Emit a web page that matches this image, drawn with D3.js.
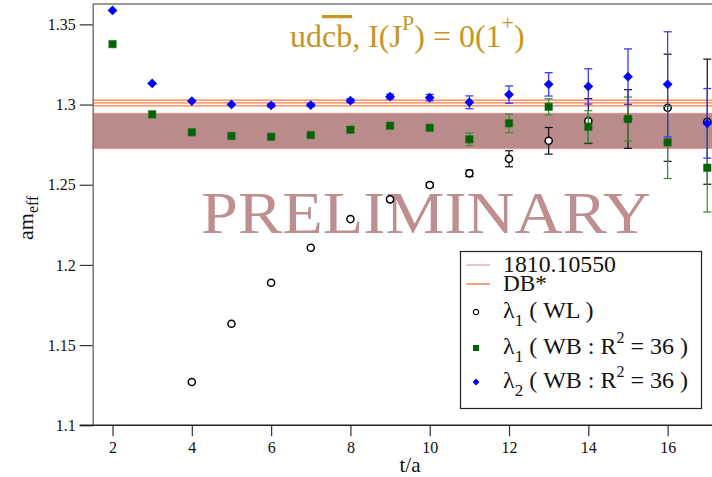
<!DOCTYPE html>
<html>
<head>
<meta charset="utf-8">
<script src="https://cdn.jsdelivr.net/npm/d3@7"></script>
<style>
  html, body { margin: 0; padding: 0; background: #fff; }
  svg { display: block; }
  text { font-family: "Liberation Serif", "Times New Roman", serif; }
</style>
</head>
<body>
<svg id="chart" width="712" height="477"></svg>
<script>
// Effective mass plateaus, udc̄b̄ channel, I(J^P) = 0(1^+)

// λ1 from wall-local correlators
const tWL   = [4, 5, 6, 7, 8, 9, 10, 11, 12, 13, 14, 15, 16, 17];
const mWL   = [1.1270, 1.1633, 1.1889, 1.2107, 1.2286, 1.2409, 1.2498, 1.2571, 1.2662, 1.2774, 1.2897, 1.2910, 1.2980, 1.2893];
const eWL   = [0.0004, 0.0005, 0.0006, 0.0008, 0.0008, 0.0010, 0.0015, 0.0020, 0.0050, 0.0083, 0.0140, 0.0183, 0.0334, 0.0390];

// λ1 from wall-box correlators, R^2 = 36
const tWB1  = [2, 3, 4, 5, 6, 7, 8, 9, 10, 11, 12, 13, 14, 15, 16, 17];
const mWB1  = [1.3377, 1.2939, 1.2827, 1.2804, 1.2799, 1.2810, 1.2843, 1.2868, 1.2855, 1.2783, 1.2883, 1.2986, 1.2862, 1.2910, 1.2764, 1.2606];
const eWB1  = [0.0005, 0.0006, 0.0007, 0.0008, 0.0009, 0.0010, 0.0012, 0.0015, 0.0015, 0.0040, 0.0058, 0.0050, 0.0100, 0.0137, 0.0225, 0.0276];

// λ2 from wall-box correlators, R^2 = 36
const tWB2  = [2, 3, 4, 5, 6, 7, 8, 9, 10, 11, 12, 13, 14, 15, 16, 17];
const mWB2  = [1.3587, 1.3132, 1.3022, 1.3001, 1.2995, 1.2997, 1.3024, 1.3049, 1.3043, 1.3014, 1.3062, 1.3126, 1.3113, 1.3174, 1.3126, 1.2883];
const eWB2  = [0.0005, 0.0007, 0.0008, 0.0008, 0.0010, 0.0010, 0.0012, 0.0015, 0.0020, 0.0040, 0.0054, 0.0073, 0.0110, 0.0173, 0.0328, 0.0217];

// Reference determinations (central value, error)
const refLabels  = ["1810.10550", "DB*"];
const refCenters = [1.2836, 1.3010];
const refErrors  = [0.0109, 0.0018];

const xTicks = [2, 4, 6, 8, 10, 12, 14, 16];
const yTicks = [1.1, 1.15, 1.2, 1.25, 1.3, 1.35];

const svg = d3.select("#chart");
const SERIF = "Liberation Serif, Times New Roman, serif";

const x = d3.scaleLinear().domain([1.5, 17.5]).range([92.7, 727.1]);
const y = d3.scaleLinear().domain([1.1, 1.3627]).range([425.3, 4]);

const COL_BLUE = "#0000ff", COL_GREEN = "#006400";
const GOLD = "#c8951f";

// frame top line
svg.append("line").attr("x1", x(1.5)).attr("x2", 712).attr("y1", y(1.3627)).attr("y2", y(1.3627))
  .attr("stroke", "#777").attr("stroke-width", 1.5);

// reference band 1810.10550
svg.append("rect")
  .attr("x", x(1.5)).attr("width", 712 - x(1.5))
  .attr("y", y(refCenters[0] + refErrors[0]))
  .attr("height", y(refCenters[0] - refErrors[0]) - y(refCenters[0] + refErrors[0]))
  .attr("fill", "#b98b8b");
[refCenters[0] + refErrors[0], refCenters[0] - refErrors[0]].forEach(v => {
  svg.append("line").attr("x1", x(1.5)).attr("x2", 712).attr("y1", y(v)).attr("y2", y(v))
    .attr("stroke", "#f08a8a").attr("stroke-width", 1);
});

// DB* lines: central value and error
[refCenters[1] + refErrors[1], refCenters[1], refCenters[1] - refErrors[1]].forEach(v => {
  svg.append("line").attr("x1", x(1.5)).attr("x2", 712).attr("y1", y(v)).attr("y2", y(v))
    .attr("stroke", "#ff7a45").attr("stroke-width", 1.2);
});

// watermark
svg.append("text")
  .attr("x", 201).attr("y", 233)
  .attr("font-family", SERIF)
  .attr("font-size", 60)
  .attr("textLength", 450).attr("lengthAdjust", "spacingAndGlyphs")
  .attr("fill", "#bf8e8e")
  .text("PRELIMINARY");

// axes
const yAxis = d3.axisLeft(y).tickValues(yTicks).tickSize(13).tickSizeOuter(0).tickPadding(4)
  .tickFormat(d => String(+d.toFixed(2)));
const gy = svg.append("g").attr("transform", `translate(${x(1.5)},0)`).call(yAxis)
  .attr("font-family", SERIF);
gy.select(".domain").attr("stroke", "#777").attr("stroke-width", 1.5);
gy.selectAll(".tick line").attr("stroke", "#333").attr("stroke-width", 1.2);
gy.selectAll(".tick text").attr("font-size", 16).attr("fill", "#111");

const xAxis = d3.axisBottom(x).tickValues(xTicks).tickSize(11).tickSizeOuter(0).tickPadding(5)
  .tickFormat(d3.format("d"));
const gx = svg.append("g").attr("transform", `translate(0,${y(1.1)})`).call(xAxis)
  .attr("font-family", SERIF);
gx.select(".domain").remove();
gx.selectAll(".tick line").attr("stroke", "#333").attr("stroke-width", 1.2);
gx.selectAll(".tick text").attr("font-size", 16).attr("fill", "#111");
svg.append("line").attr("x1", x(1.5) - 13).attr("x2", 712).attr("y1", y(1.1)).attr("y2", y(1.1))
  .attr("stroke", "#222").attr("stroke-width", 1.5);

// axis titles
svg.append("text").attr("x", 410).attr("y", 472).attr("text-anchor", "middle")
  .attr("font-family", SERIF).attr("font-size", 21).attr("fill", "#111").text("t/a");
const yl = svg.append("text").attr("transform", "translate(33,240) rotate(-90)")
  .attr("font-family", SERIF).attr("font-size", 22).attr("fill", "#111");
yl.append("tspan").text("am");
yl.append("tspan").attr("dy", 5).attr("font-size", 16).text("eff");

// chart title
const title = svg.append("text").attr("x", 290).attr("y", 47)
  .attr("font-family", SERIF).attr("font-size", 32).attr("fill", GOLD);
title.append("tspan").text("ud");
title.append("tspan").style("text-decoration", "overline").text("c");
title.append("tspan").style("text-decoration", "overline").text("b");
title.append("tspan").text(", I(J");
title.append("tspan").attr("dy", -17).attr("font-size", 22).text("P");
title.append("tspan").attr("dy", 17).text(") = 0(1");
title.append("tspan").attr("dy", -17).attr("font-size", 22).text("+");
title.append("tspan").attr("dy", 17).text(")");

// error bars and markers
const plot = svg.append("g");
function errorBars(ts, ms, es, color, width) {
  const g = plot.append("g").attr("stroke", color).attr("stroke-width", width).attr("fill", "none");
  ts.forEach((t, i) => {
    const cx = x(t), y0 = y(ms[i] - es[i]), y1 = y(ms[i] + es[i]);
    if (y0 - y1 < 3) return;
    g.append("line").attr("x1", cx).attr("x2", cx).attr("y1", y0).attr("y2", y1);
    g.append("line").attr("x1", cx - 4).attr("x2", cx + 4).attr("y1", y0).attr("y2", y0);
    g.append("line").attr("x1", cx - 4).attr("x2", cx + 4).attr("y1", y1).attr("y2", y1);
  });
}

const circleSym = d3.symbol().type(d3.symbolCircle).size(40);
const squareSym = d3.symbol().type(d3.symbolSquare).size(56);
const diamondSym = d3.symbol().type(d3.symbolSquare).size(48);

errorBars(tWL, mWL, eWL, "#111", 1.2);
plot.append("g").selectAll("path").data(tWL).join("path")
  .attr("d", circleSym)
  .attr("transform", (t, i) => `translate(${x(t)},${y(mWL[i])})`)
  .attr("fill", "#fff").attr("stroke", "#000").attr("stroke-width", 1.5);

errorBars(tWB1, mWB1, eWB1, "#3f8f3f", 1.3);
plot.append("g").selectAll("path").data(tWB1).join("path")
  .attr("d", squareSym)
  .attr("transform", (t, i) => `translate(${x(t)},${y(mWB1[i])})`)
  .attr("fill", COL_GREEN).attr("stroke", "#2e6e2e").attr("stroke-width", 0.6);

errorBars(tWB2, mWB2, eWB2, "#3a3aff", 1.3);
plot.append("g").selectAll("path").data(tWB2).join("path")
  .attr("d", diamondSym)
  .attr("transform", (t, i) => `translate(${x(t)},${y(mWB2[i])}) rotate(45)`)
  .attr("fill", COL_BLUE);

// legend
const lg = svg.append("g").attr("font-family", SERIF);
lg.append("rect").attr("x", 460.5).attr("y", 251.5).attr("width", 241).attr("height", 157)
  .attr("fill", "#fff").attr("stroke", "#222").attr("stroke-width", 1.2);
const legendRows = [
  { kind: "line", color: "#c89090", width: 1, label: refLabels[0], yy: 265 },
  { kind: "line", color: "#f8a07e", width: 2, label: refLabels[1], yy: 284 },
  { kind: "circle", lam: "1", rest: " ( WL )", yy: 312 },
  { kind: "square", lam: "1", rest: " ( WB : R", sq: true, yy: 348 },
  { kind: "diamond", lam: "2", rest: " ( WB : R", sq: true, yy: 382 }
];
legendRows.forEach(r => {
  if (r.kind === "line") {
    lg.append("line").attr("x1", 466.5).attr("x2", 490).attr("y1", r.yy).attr("y2", r.yy)
      .attr("stroke", r.color).attr("stroke-width", r.width);
    lg.append("text").attr("x", 503).attr("y", r.yy + 7).attr("font-size", 23)
      .attr("textLength", r.label.length > 4 ? 113 : 44).attr("lengthAdjust", "spacingAndGlyphs")
      .attr("fill", "#111").text(r.label);
    return;
  }
  const sym = r.kind === "circle" ? d3.symbol().type(d3.symbolCircle).size(22)
            : r.kind === "square" ? d3.symbol().type(d3.symbolSquare).size(36)
            : d3.symbol().type(d3.symbolSquare).size(24);
  const p = lg.append("path").attr("d", sym)
    .attr("transform", `translate(476,${r.yy})` + (r.kind === "diamond" ? " rotate(45)" : ""));
  if (r.kind === "circle") p.attr("fill", "#fff").attr("stroke", "#000").attr("stroke-width", 1.2);
  else p.attr("fill", r.kind === "square" ? COL_GREEN : COL_BLUE);
  const t = lg.append("text").attr("x", 503).attr("y", r.yy + 6).attr("font-size", 24).attr("fill", "#111");
  t.append("tspan").text("λ");
  t.append("tspan").attr("dy", 8).attr("font-size", 17).text(r.lam);
  t.append("tspan").attr("dy", -8).text(r.rest);
  if (r.sq) {
    t.append("tspan").attr("dy", -11).attr("font-size", 16).text("2");
    t.append("tspan").attr("dy", 11).text(" = 36 )");
  }
});
</script>
</body>
</html>
